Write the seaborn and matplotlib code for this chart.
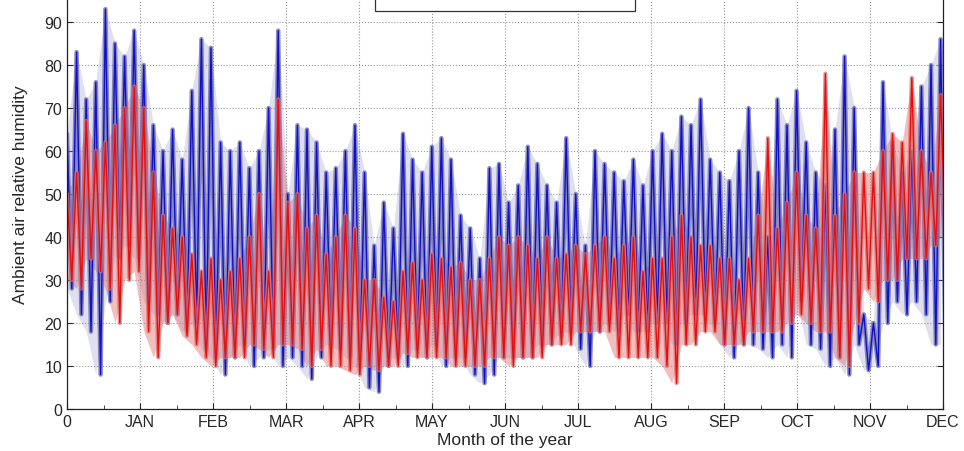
import numpy as np
import pandas as pd
import matplotlib
matplotlib.use("Agg")
import matplotlib.pyplot as plt
import seaborn as sns
from matplotlib.patches import Rectangle
from matplotlib.ticker import MultipleLocator

# ---- data (4-day sampling) ----
days = list(range(0, 365, 4))
blue_hi = [64, 83, 72, 76, 93, 85, 82, 88, 80, 66, 60, 65, 58, 74, 86, 84, 62, 60, 62, 56,
           60, 70, 88, 50, 66, 65, 62, 55, 56, 60, 66, 55, 38, 48, 42, 64, 58, 55, 61, 63,
           58, 45, 42, 35, 56, 57, 48, 52, 61, 57, 52, 48, 63, 50, 38, 60, 57, 55, 53, 58,
           52, 60, 64, 60, 68, 66, 72, 58, 55, 53, 60, 70, 55, 40, 72, 66, 74, 62, 55, 52,
           65, 82, 70, 22, 20, 76, 62, 55, 60, 75, 80, 86]
blue_lo = [28, 22, 18, 8, 25, 35, 38, 35, 25, 22, 20, 22, 18, 20, 14, 12, 8, 12, 15, 10,
           12, 14, 10, 12, 10, 7, 12, 15, 14, 12, 10, 5, 4, 10, 12, 10, 14, 12, 15, 10,
           12, 12, 8, 6, 8, 12, 12, 12, 12, 15, 15, 17, 18, 14, 10, 18, 20, 18, 22, 18,
           18, 20, 20, 15, 20, 22, 22, 20, 15, 12, 15, 15, 14, 12, 15, 12, 25, 15, 14, 10,
           12, 8, 15, 9, 10, 20, 25, 22, 25, 22, 15, 15]
red_hi = [50, 55, 67, 60, 62, 66, 70, 75, 70, 55, 45, 42, 40, 36, 32, 35, 30, 32, 35, 40,
          50, 32, 72, 48, 50, 42, 45, 36, 40, 45, 42, 30, 30, 26, 25, 32, 34, 30, 36, 35,
          33, 34, 30, 30, 35, 40, 38, 40, 38, 35, 40, 35, 36, 38, 36, 38, 40, 35, 38, 40,
          32, 35, 35, 40, 45, 40, 38, 38, 35, 35, 30, 35, 45, 63, 42, 48, 55, 45, 42, 78,
          45, 50, 55, 55, 55, 60, 64, 62, 77, 60, 55, 73]
red_lo = [30, 28, 35, 32, 28, 20, 30, 32, 18, 12, 20, 22, 17, 15, 12, 10, 12, 12, 12, 15,
          14, 12, 15, 15, 14, 10, 14, 10, 10, 9, 8, 10, 9, 10, 10, 13, 12, 12, 12, 12,
          10, 10, 10, 10, 12, 12, 10, 12, 12, 12, 15, 15, 15, 18, 18, 18, 18, 12, 12, 12,
          12, 12, 10, 6, 15, 15, 18, 18, 15, 15, 15, 18, 18, 18, 18, 20, 22, 20, 18, 18,
          12, 10, 20, 28, 25, 30, 30, 35, 35, 35, 38, 40]
month_labels = ["0", "JAN", "FEB", "MAR", "APR", "MAY", "JUN", "JUL", "AUG",
                "SEP", "OCT", "NOV", "DEC"]


def zigzag(hi, lo, name):
    xs, ys = [], []
    for d, h, l in zip(days, hi, lo):
        xs += [d * 12 / 365, (d + 2) * 12 / 365]
        ys += [h, l]
    return pd.DataFrame({"month": xs, "rh": ys, "series": name})


blue_df = zigzag(blue_hi, blue_lo, "blue")
red_df = zigzag(red_hi, red_lo, "red")

sns.set_style("ticks")
plt.rcParams["font.family"] = ["Liberation Sans", "DejaVu Sans"]

fig = plt.figure(figsize=(9.64, 4.52), dpi=100)
ax = fig.add_axes([67 / 964, 1 - 410 / 452, 876 / 964, 430 / 452])

xm = np.array([d * 12 / 365 for d in days])
ax.fill_between(xm, blue_lo, blue_hi, color="#8080bc", alpha=0.25, lw=0)

sns.lineplot(data=blue_df, x="month", y="rh", ax=ax, sort=False, estimator=None,
             color="#7070b4", lw=3.2, alpha=0.8)
sns.lineplot(data=blue_df, x="month", y="rh", ax=ax, sort=False, estimator=None,
             color="#1010c4", lw=1.0)

ax.fill_between(xm, red_lo, red_hi, color="#e07070", alpha=0.45, lw=0)
sns.lineplot(data=red_df, x="month", y="rh", ax=ax, sort=False, estimator=None,
             color="#e07272", lw=3.0, alpha=0.75)
sns.lineplot(data=red_df, x="month", y="rh", ax=ax, sort=False, estimator=None,
             color="#e41010", lw=1.0)

ax.set_xlim(0, 12)
ax.set_ylim(0, 100)
ax.set_xticks(range(13))
ax.set_xticklabels(month_labels, fontsize=11.5)
ax.xaxis.set_minor_locator(MultipleLocator(0.5))
ax.set_yticks(range(0, 100, 10))
ax.tick_params(axis="y", labelsize=11.5)
ax.tick_params(which="both", direction="in", top=True, right=True, length=4)
ax.tick_params(which="minor", length=3)
ax.grid(True, which="major", linestyle=":", color="#999999", lw=0.8)
for s in ax.spines.values():
    s.set_color("#222222")
    s.set_linewidth(0.9)

ax.set_xlabel("Month of the year", fontsize=12.5, labelpad=2)
ax.set_ylabel("Ambient air relative humidity", fontsize=12.5, labelpad=12)

ax.add_patch(Rectangle(((375 - 67) / 876, (410 - 12) / 430), 260 / 876, 0.2,
                       transform=ax.transAxes, fill=True, facecolor="white",
                       edgecolor="#333333", lw=0.9, clip_on=False, zorder=5))

fig.savefig("out.png", dpi=100)
